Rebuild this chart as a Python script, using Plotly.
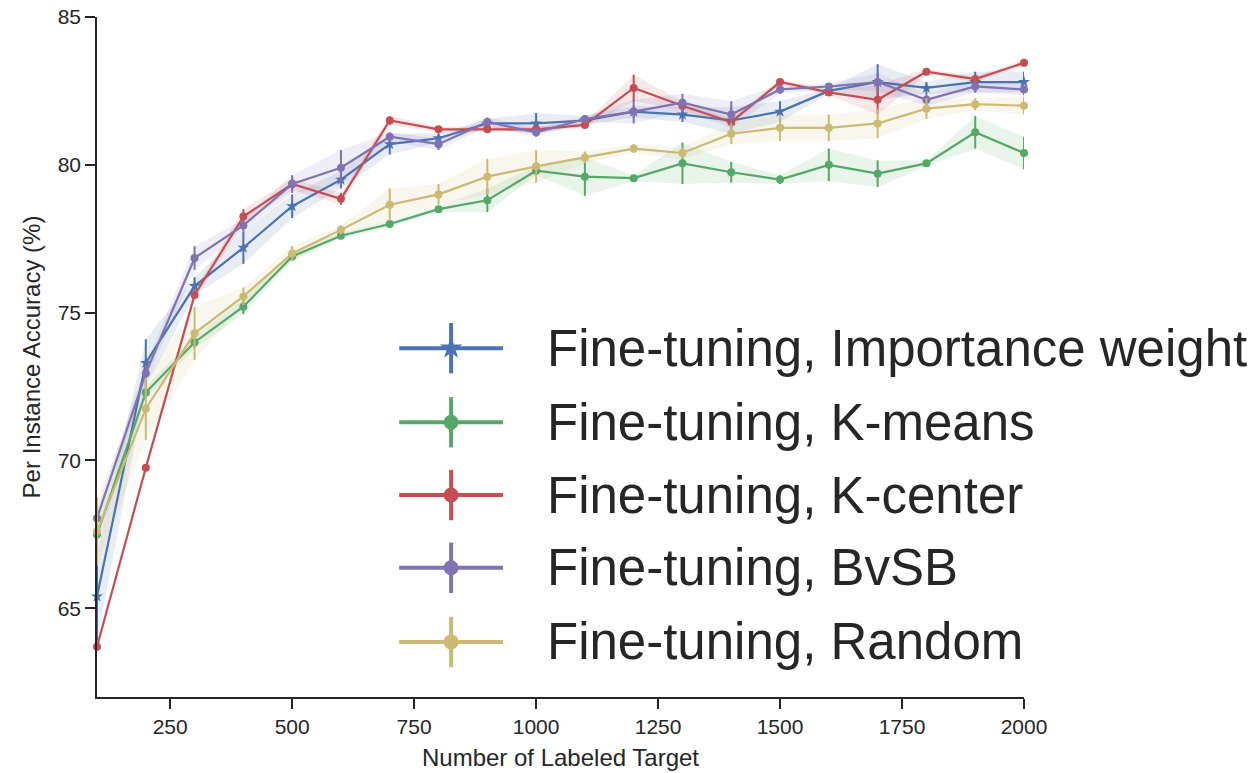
import plotly.graph_objects as go

x_vals = [100, 200, 300, 400, 500, 600, 700, 800, 900, 1000,
          1100, 1200, 1300, 1400, 1500, 1600, 1700, 1800, 1900, 2000]

imp = [65.4, 73.3, 75.9, 77.2, 78.6, 79.5, 80.7, 80.9, 81.4, 81.4,
       81.5, 81.8, 81.7, 81.5, 81.8, 82.5, 82.8, 82.6, 82.8, 82.8]
imp_err = [1.5, 0.8, 0.3, 0.55, 0.4, 0.3, 0.35, 0.15, 0.15, 0.35,
           0.15, 0.2, 0.25, 0.45, 0.35, 0.1, 0.6, 0.2, 0.35, 0.35]

km = [67.5, 72.3, 74.0, 75.2, 76.9, 77.6, 78.0, 78.5, 78.8, 79.8,
      79.6, 79.55, 80.05, 79.75, 79.5, 80.0, 79.7, 80.05, 81.1, 80.4]
km_err = [0.3, 0.2, 0.2, 0.25, 0.15, 0.1, 0.1, 0.1, 0.4, 0.15,
          0.65, 0.1, 0.7, 0.35, 0.15, 0.55, 0.45, 0.1, 0.55, 0.55]

kc = [63.7, 69.75, 75.6, 78.25, 79.35, 78.85, 81.5, 81.2, 81.2, 81.2,
      81.35, 82.6, 82.0, 81.45, 82.8, 82.45, 82.2, 83.15, 82.9, 83.45]
kc_err = [0.1, 0.1, 0.15, 0.25, 0.2, 0.2, 0.15, 0.1, 0.1, 0.1,
          0.1, 0.45, 0.15, 0.1, 0.1, 0.1, 0.5, 0.1, 0.1, 0.1]

bvsb = [68.05, 72.95, 76.85, 77.95, 79.35, 79.9, 80.95, 80.7, 81.45, 81.1,
        81.55, 81.8, 82.1, 81.7, 82.55, 82.65, 82.8, 82.2, 82.65, 82.55]
bvsb_err = [0.3, 0.3, 0.4, 0.2, 0.3, 0.6, 0.15, 0.2, 0.15, 0.15,
            0.1, 0.4, 0.3, 0.45, 0.15, 0.1, 0.3, 0.2, 0.2, 0.2]

rnd = [67.6, 71.75, 74.3, 75.55, 77.0, 77.8, 78.65, 79.0, 79.6, 79.95,
       80.25, 80.55, 80.4, 81.05, 81.25, 81.25, 81.4, 81.9, 82.05, 82.0]
rnd_err = [1.15, 1.05, 0.9, 0.3, 0.25, 0.15, 0.55, 0.35, 0.6, 0.55,
           0.2, 0.15, 0.2, 0.35, 0.45, 0.45, 0.5, 0.35, 0.2, 0.3]

names = ["Fine-tuning, Importance weight", "Fine-tuning, K-means",
         "Fine-tuning, K-center", "Fine-tuning, BvSB", "Fine-tuning, Random"]
series = [imp, km, kc, bvsb, rnd]
errors = [imp_err, km_err, kc_err, bvsb_err, rnd_err]
colors = ["#4C72B0", "#55A868", "#C44E52", "#8172B2", "#CCB974"]
rgb = [(76, 114, 176), (85, 168, 104), (196, 78, 82), (129, 114, 178), (204, 185, 116)]
symbols = ["star", "circle", "circle", "circle", "circle"]

TXT = "#262626"
fig = go.Figure()

# confidence bands
for ys, es, c in zip(series, errors, rgb):
    up = [y + e for y, e in zip(ys, es)]
    lo = [y - e for y, e in zip(ys, es)]
    fig.add_trace(go.Scatter(
        x=x_vals + x_vals[::-1], y=up + lo[::-1], fill="toself",
        fillcolor="rgba(%d,%d,%d,0.13)" % c, line=dict(width=0),
        hoverinfo="skip", showlegend=False, mode="lines"))

# lines with error bars
for ys, es, col, sym, nm in zip(series, errors, colors, symbols, names):
    fig.add_trace(go.Scatter(
        x=x_vals, y=ys, name=nm, mode="lines+markers",
        line=dict(color=col, width=2.2),
        marker=dict(symbol=sym, size=9 if sym == "star" else 8, color=col,
                    line=dict(width=0)),
        error_y=dict(type="data", array=es, visible=True, color=col,
                     thickness=2, width=0),
        showlegend=False, cliponaxis=False))

# manual legend (in an overlay unit axis)
row_y = [0.513, 0.404, 0.297, 0.190, 0.081]
leg_x = 0.382
for nm, col, sym, ry in zip(names, colors, symbols, row_y):
    fig.add_trace(go.Scatter(
        x=[leg_x], y=[ry], mode="markers", xaxis="x2", yaxis="y2",
        marker=dict(symbol=sym, size=17 if sym == "star" else 15, color=col),
        error_x=dict(type="data", array=[0.056], visible=True, color=col,
                     thickness=4, width=0),
        error_y=dict(type="data", array=[0.037], visible=True, color=col,
                     thickness=4, width=0),
        showlegend=False, hoverinfo="skip", cliponaxis=False))
    fig.add_annotation(x=0.4835, y=ry, xref="paper", yref="paper",
                       text=nm, showarrow=False, xanchor="left", yanchor="middle",
                       font=dict(family="Liberation Sans, Arial", size=51, color=TXT))

fig.update_layout(
    width=1258, height=773,
    margin=dict(l=97, r=234, t=17, b=76, autoexpand=False),
    paper_bgcolor="white", plot_bgcolor="white",
    font=dict(family="Liberation Sans, Arial", color=TXT),
    showlegend=False,
    xaxis=dict(range=[100, 2000], tickvals=[250, 500, 750, 1000, 1250, 1500, 1750, 2000],
               ticks="outside", ticklen=10, tickwidth=1.5, tickcolor=TXT,
               showline=True, linecolor=TXT, linewidth=1.5, showgrid=False,
               zeroline=False, tickfont=dict(size=21, color=TXT), automargin=False,
               title=dict(text="Number of Labeled Target", font=dict(size=24, color=TXT),
                          standoff=12)),
    yaxis=dict(range=[62, 85], tickvals=[65, 70, 75, 80, 85],
               ticks="outside", ticklen=10, tickwidth=1.5, tickcolor=TXT,
               showline=True, linecolor=TXT, linewidth=1.5, showgrid=False,
               zeroline=False, tickfont=dict(size=21, color=TXT), automargin=False,
               title=dict(text="Per Instance Accuracy (%)", font=dict(size=24, color=TXT),
                          standoff=10)),
    xaxis2=dict(overlaying="x", range=[0, 1], visible=False, fixedrange=True),
    yaxis2=dict(overlaying="y", range=[0, 1], visible=False, fixedrange=True),
)

fig.write_html("out.html")
